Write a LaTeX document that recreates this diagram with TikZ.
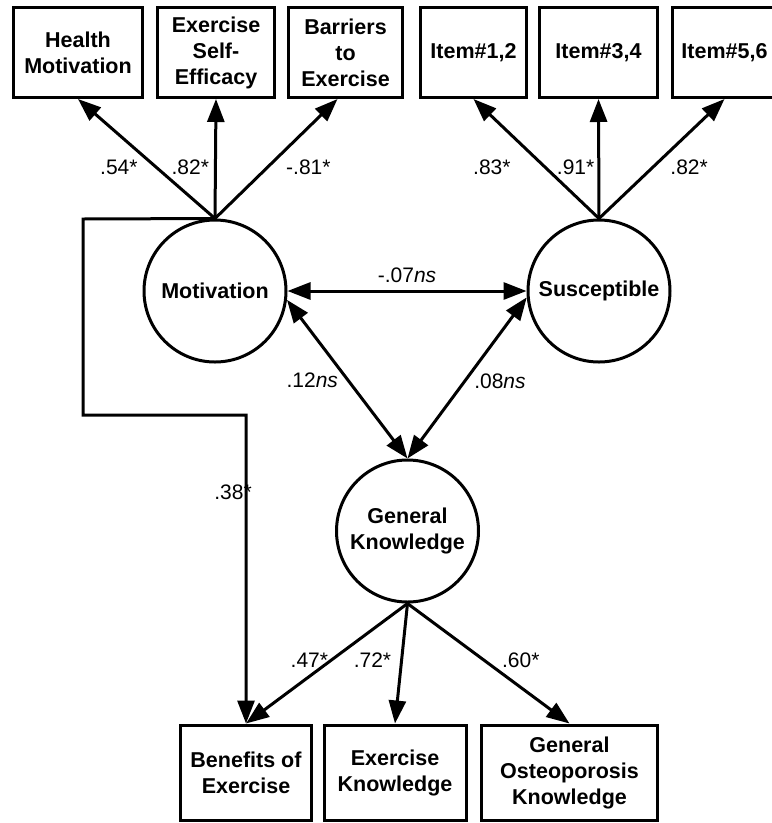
\documentclass[tikz,border=0pt]{standalone}
\usepackage{fontspec}
\setmainfont{Liberation Sans}
\usetikzlibrary{positioning,arrows.meta}

\begin{document}
\begin{tikzpicture}[
    x=1pt, y=-1pt,
    varbox/.style={rectangle, draw=black, line width=3pt, align=center, inner sep=0pt,
        font=\fontsize{21.5}{26}\selectfont\bfseries},
    latent/.style={circle, draw=black, line width=3pt, minimum size=142pt, align=center, inner sep=0pt,
        font=\fontsize{21.5}{26}\selectfont\bfseries},
    link/.style={-{Triangle[length=23pt,width=17pt]}, line width=3pt},
    corr/.style={{Triangle[length=23pt,width=17pt]}-{Triangle[length=23pt,width=17pt]}, line width=3pt},
    coef/.style={font=\fontsize{21}{25}\selectfont, inner sep=1pt}
    ]
        \useasboundingbox (0,0) rectangle (772,823);

        %Nodes
        \node[varbox, minimum width=129pt, minimum height=90pt]
            (hm)  at (78,52.5)    {Health\\Motivation};
        \node[varbox, minimum width=117pt, minimum height=90pt]
            (ese) at (216,52.5)   {Exercise\\Self-\\Efficacy};
        \node[varbox, minimum width=114pt, minimum height=90pt]
            (bte) at (345.5,52.5) {Barriers\\to\\Exercise};
        \node[varbox, minimum width=106pt, minimum height=90pt]
            (i12) at (473.5,52.5) {Item\#1,2};
        \node[varbox, minimum width=118pt, minimum height=90pt]
            (i34) at (598.5,52.5) {Item\#3,4};
        \node[varbox, minimum width=104pt, minimum height=90pt]
            (i56) at (724.5,52.5) {Item\#5,6};

        \node[latent] (mot) at (215,291)   {Motivation};
        \node[latent] (sus) at (599,291)   {Susceptible};
        \node[latent] (gk)  at (407.5,531) {General\\Knowledge};

        \node[varbox, minimum width=131pt, minimum height=95pt]
            (bob) at (246,772.5)   {Benefits of\\Exercise};
        \node[varbox, minimum width=142pt, minimum height=95pt]
            (exk) at (395,772.5)   {Exercise\\Knowledge};
        \node[varbox, minimum width=176pt, minimum height=95pt]
            (gok) at (569.5,772.5) {General\\Osteoporosis\\Knowledge};

        \coordinate (bendT) at (83,219);
        \coordinate (bendB) at (83,415);

        %Lines
        \draw[link] (mot.north) -- node[coef, pos=.43, left=16pt] {.54*} (hm.south);
        \draw[link] (mot.north) -- node[coef, pos=.43, left=4pt] {.82*} (ese.south);
        \draw[link] (mot.north) -- node[coef, pos=.43, right=16pt] {-.81*} ([xshift=-8pt]bte.south);
        \draw[link] (sus.north) -- node[coef, pos=.43, left=32pt] {.83*} (i12.south);
        \draw[link] (sus.north) -- node[coef, pos=.43, left=2pt] {.91*} (i34.south);
        \draw[link] (sus.north) -- node[coef, pos=.43, right=15pt] {.82*} (i56.south);

        \draw[corr] (mot.east) -- node[coef, above=6pt] {-.07\textit{ns}} (sus.west);
        \draw[corr] (mot.-7) -- node[coef, pos=.51, left=8pt] {.12\textit{ns}} (gk.north);
        \draw[corr] (sus.185) -- node[coef, pos=.52, right=7pt] {.08\textit{ns}} (gk.north);

        \draw[link] (mot.north) -- (bendT) -- (bendB)
            -| node[coef, pos=.625, xshift=-13pt] {.38*} (bob.north);

        \draw[link] (gk.south) -- node[coef, pos=.47, left=1pt] {.47*} (bob.north);
        \draw[link] (gk.south) -- node[coef, pos=.47, left=8pt] {.72*} (exk.north);
        \draw[link] (gk.south) -- node[coef, pos=.47, right=16pt] {.60*} (gok.north);
    \end{tikzpicture}
\end{document}
